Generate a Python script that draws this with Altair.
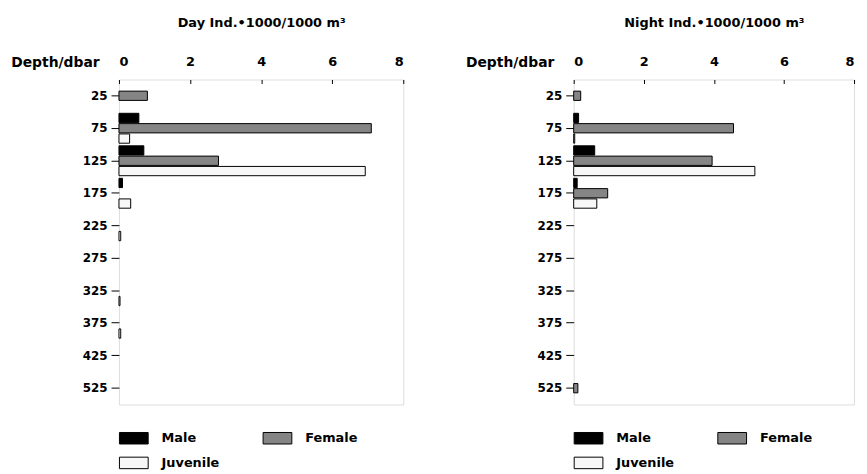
import altair as alt
import pandas as pd

depths = ["25", "75", "125", "175", "225", "275", "325", "375", "425", "525"]
sexes = ["Male", "Female", "Juvenile"]
legend_order = ["Male", "Juvenile", "Female"]

day_male = [0.0, 0.56, 0.70, 0.10, 0.0, 0.0, 0.0, 0.0, 0.0, 0.0]
day_female = [0.80, 7.10, 2.80, 0.0, 0.0, 0.0, 0.0, 0.0, 0.0, 0.0]
day_juvenile = [0.0, 0.30, 6.93, 0.33, 0.05, 0.0, 0.03, 0.05, 0.0, 0.0]

night_male = [0.0, 0.14, 0.60, 0.10, 0.0, 0.0, 0.0, 0.0, 0.0, 0.0]
night_female = [0.20, 4.56, 3.95, 0.97, 0.0, 0.0, 0.0, 0.0, 0.0, 0.12]
night_juvenile = [0.0, 0.03, 5.17, 0.66, 0.0, 0.0, 0.0, 0.0, 0.0, 0.0]

x_ticks = [0, 2, 4, 6, 8]
fills = {"Male": "#000000", "Female": "#858585", "Juvenile": "#f7f7f7"}

FONT = "DejaVu Sans"


def frame(male, female, juvenile):
    rows = []
    for s, vals in zip(sexes, [male, female, juvenile]):
        for d, v in zip(depths, vals):
            rows.append({"depth": d, "sex": s, "value": v})
    return pd.DataFrame(rows)


def panel(df, title, width):
    return (
        alt.Chart(df)
        .transform_filter("datum.value > 0")
        .mark_bar(stroke="black", strokeWidth=1)
        .encode(
            x=alt.X(
                "value:Q",
                scale=alt.Scale(domain=[0, 8], nice=False),
                axis=alt.Axis(
                    orient="top",
                    values=x_ticks,
                    format="d",
                    title=title,
                    grid=False,
                    domain=False,
                    offset=-4,
                    tickSize=4,
                    tickColor="black",
                    labelPadding=11,
                    titlePadding=27,
                    labelFont=FONT,
                    labelFontWeight="bold",
                    labelFontSize=13,
                    labelColor="black",
                    titleFont=FONT,
                    titleFontWeight="bold",
                    titleFontSize=13,
                    titleColor="black",
                ),
            ),
            y=alt.Y(
                "depth:N",
                sort=depths,
                scale=alt.Scale(domain=depths, paddingInner=0.08, paddingOuter=0.04),
                axis=alt.Axis(
                    title="Depth/dbar",
                    titleAngle=0,
                    titleX=-20,
                    titleY=-17,
                    titleAlign="right",
                    titleBaseline="middle",
                    domain=False,
                    tickSize=8,
                    tickColor="black",
                    labelPadding=4,
                    labelFont=FONT,
                    labelFontWeight="bold",
                    labelFontSize=12,
                    labelColor="black",
                    titleFont=FONT,
                    titleFontWeight="bold",
                    titleFontSize=14,
                    titleColor="black",
                ),
            ),
            yOffset=alt.YOffset(
                "sex:N",
                sort=sexes,
                scale=alt.Scale(domain=sexes, paddingInner=0.1, paddingOuter=0.0),
            ),
            fill=alt.Fill(
                "sex:N",
                sort=legend_order,
                scale=alt.Scale(domain=legend_order, range=[fills[s] for s in legend_order]),
                legend=alt.Legend(
                    title=None,
                    orient="none",
                    legendX=0,
                    legendY=347,
                    columns=2,
                    columnPadding=41,
                    rowPadding=2,
                    symbolType="M-1,-0.4H1V0.4H-1Z",
                    symbolSize=841,
                    symbolStrokeColor="black",
                    symbolStrokeWidth=1,
                    labelOffset=13,
                    labelFont=FONT,
                    labelFontWeight="bold",
                    labelFontSize=13,
                    labelColor="black",
                ),
            ),
        )
        .properties(width=width, height=328)
    )


day = panel(frame(day_male, day_female, day_juvenile), "Day Ind.•1000/1000 m³", 287)
night = panel(frame(night_male, night_female, night_juvenile), "Night Ind.•1000/1000 m³", 283)

chart = (
    alt.hconcat(day, night, spacing=61)
    .resolve_legend(fill="independent")
    .resolve_scale(fill="independent")
    .properties(padding={"left": 2, "top": 5, "right": 4, "bottom": 0})
    .configure_view(stroke="black", strokeWidth=1.5)
    .configure(background="white")
)

chart.save("out.html", embed_options={"renderer": "svg", "actions": False})
